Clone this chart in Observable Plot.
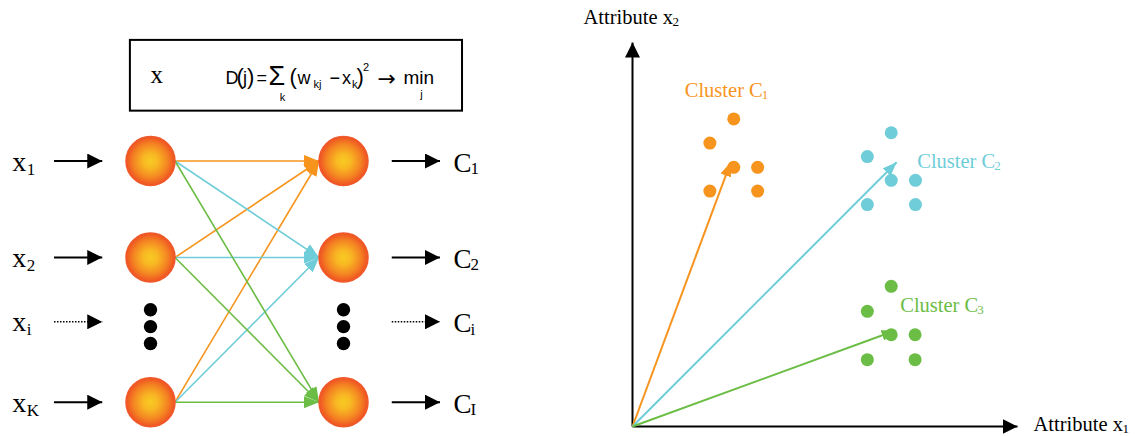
<!DOCTYPE html>
<html><head><meta charset="utf-8">
<script src="https://cdn.jsdelivr.net/npm/d3@7"></script>
<script src="https://cdn.jsdelivr.net/npm/@observablehq/plot@0.6"></script>
<style>
body{margin:0;background:#fff;}
#wrap{display:flex;width:1135px;height:436px;overflow:hidden;}
</style></head><body><div id="wrap"></div>
<script>
// ---------------- data ----------------
// Left: Kohonen network (grid units)
const inputSubs = ["1", "2", "i", "K"];
const outputSubs = ["1", "2", "i", "I"];
const rowLevels = [0, 6, 10, 15];          // x1, x2, xi, xK rows
const neuronRows = [0, 6, 15];             // rows that show a neuron
const ellipsisLevels = [9.25, 10.3, 11.35];
const layerLevels = [0, 12];               // input layer, output layer
const connFrom = [0, 6, 15, 0, 6, 15, 0, 6, 15];
const connTo = [0, 0, 0, 6, 6, 6, 15, 15, 15];
const connCluster = [0, 0, 0, 1, 1, 1, 2, 2, 2];

// Right: clusters in attribute space
const clusterNames = ["1", "2", "3"];
const clusterColors = ["#F7941D", "#6FCDD9", "#6BBD45"];
const clusterX = [
  [2.63, 2.01, 2.63, 3.25, 2.01, 3.25],
  [6.72, 6.10, 6.72, 7.35, 6.10, 7.35],
  [6.72, 6.10, 6.72, 7.34, 6.10, 7.34]
];
const clusterY = [
  [8.01, 7.38, 6.75, 6.75, 6.13, 6.13],
  [7.65, 7.03, 6.41, 6.41, 5.78, 5.78],
  [3.65, 3.00, 2.39, 2.39, 1.74, 1.74]
];
const weightX = [2.55, 6.86, 6.83];
const weightY = [6.88, 6.88, 2.50];
const axisMax = 10;

// ---------------- left plot ----------------
const serif = "Liberation Serif";
const sans = "Liberation Sans";
const nodeR = 24.5;
const unitPx = (343 - 150) / 12;
const edge = nodeR / unitPx;

const rowsData = rowLevels.map((lvl, i) => ({lvl, inSub: inputSubs[i], outSub: outputSubs[i], dotted: inputSubs[i] === "i"}));
const neurons = layerLevels.flatMap(l => neuronRows.map(r => ({l, r})));
const ellipsis = layerLevels.flatMap(l => ellipsisLevels.map(r => ({l, r})));
const conns = connFrom.map((f, i) => ({f, t: connTo[i], c: connCluster[i]}));

const formula = [
  {t: "D", dx: 0, dy: 0, s: 18},
  {t: "(", dx: 11, dy: 0, s: 22},
  {t: "j", dx: 17.5, dy: 0, s: 18},
  {t: ")", dx: 21.5, dy: 0, s: 22},
  {t: "=", dx: 31, dy: 0, s: 18},
  {t: "Σ", dx: 43, dy: 1, s: 27},
  {t: "k", dx: 57, dy: 17, s: 11, a: "middle"},
  {t: "(", dx: 64, dy: 0, s: 22},
  {t: "w", dx: 72, dy: 0, s: 18},
  {t: "kj", dx: 88, dy: 4, s: 11},
  {t: "−", dx: 104, dy: 0, s: 18},
  {t: "x", dx: 116.5, dy: 0, s: 18},
  {t: "k", dx: 126.5, dy: 4, s: 11},
  {t: ")", dx: 131, dy: 0, s: 22},
  {t: "2", dx: 137.5, dy: -13, s: 11},
  {t: "→", dx: 152, dy: 2, s: 22, f: "DejaVu Sans"},
  {t: "min", dx: 178, dy: 0, s: 19},
  {t: "j", dx: 196, dy: 14, s: 11, a: "middle"}
];
const fx = 4.66, fy = -4.76;

const leftMarks = [
  Plot.rect([0], {x1: -1.25, x2: 19.4, y1: -7.5, y2: -3.1, fill: "white", stroke: "black", strokeWidth: 2}),
  Plot.text(["x"], {x: 0, y: -4.82, text: d => d, textAnchor: "start", lineAnchor: "bottom", fontFamily: serif, fontSize: 25, fill: "black"}),
  ...formula.map(p => Plot.text([p.t], {x: fx, y: fy, text: d => d, dx: p.dx, dy: p.dy, fontSize: p.s, fontFamily: p.f || sans, textAnchor: p.a || "start", lineAnchor: "bottom", fill: "black"})),
  // input labels
  Plot.text(rowsData, {x: -8.6, y: "lvl", text: () => "x", dy: 9.5, textAnchor: "start", lineAnchor: "bottom", fontFamily: serif, fontSize: 28, fill: "black"}),
  Plot.text(rowsData, {x: -8.6, y: "lvl", text: "inSub", dx: 14.5, dy: 13.5, textAnchor: "start", lineAnchor: "bottom", fontFamily: serif, fontSize: 17, fill: "black"}),
  // input arrows
  Plot.link(rowsData.filter(d => !d.dotted), {x1: -6, x2: -3, y1: "lvl", y2: "lvl", stroke: "black", strokeWidth: 2}),
  Plot.link(rowsData.filter(d => d.dotted), {x1: -6, x2: -3, y1: "lvl", y2: "lvl", stroke: "black", strokeWidth: 1.5, strokeDasharray: "1.5 1.5"}),
  // output arrows
  Plot.link(rowsData.filter(d => !d.dotted), {x1: 15, x2: 18, y1: "lvl", y2: "lvl", stroke: "black", strokeWidth: 2}),
  Plot.link(rowsData.filter(d => d.dotted), {x1: 15, x2: 18, y1: "lvl", y2: "lvl", stroke: "black", strokeWidth: 1.5, strokeDasharray: "1.5 1.5"}),
  // output labels
  Plot.text(rowsData, {x: 18.84, y: "lvl", text: () => "C", dy: 10.5, textAnchor: "start", lineAnchor: "bottom", fontFamily: serif, fontSize: 27, fill: "black"}),
  Plot.text(rowsData, {x: 18.84, y: "lvl", text: "outSub", dx: 17, dy: 13, textAnchor: "start", lineAnchor: "bottom", fontFamily: serif, fontSize: 17, fill: "black"}),
  // connections per cluster colour
  ...clusterColors.map((col, ci) => Plot.link(conns.filter(d => d.c === ci), {x1: edge, x2: 12 - edge, y1: "f", y2: "t", stroke: col, strokeWidth: 1.6})),
  // neurons
  Plot.dot(neurons, {x: "l", y: "r", r: nodeR, fill: "url(#nodeGrad)", stroke: "#F0592A", strokeWidth: 1.5}),
  Plot.dot(ellipsis, {x: "l", y: "r", r: 6.7, fill: "black"})
];

const svgL = Plot.plot({
  width: 580, height: 436, margin: 0,
  style: {background: "white", overflow: "visible"},
  x: {domain: [0, 12], range: [150, 343], axis: null},
  y: {domain: [0, 15], range: [160.5, 401.7], axis: null},
  marks: leftMarks
});

// ---------------- right plot ----------------
const points = clusterX.flatMap((xs, ci) => xs.map((x, j) => ({x, y: clusterY[ci][j], c: ci})));
const weights = weightX.map((x, i) => ({x, y: weightY[i], c: i}));
const labelOff = [{dx: -49, dy: -22.4}, {dx: 26, dy: 35}, {dx: 9, dy: 26}];

const rightMarks = [
  Plot.link([0], {x1: 0, y1: 0, x2: axisMax, y2: 0, stroke: "black", strokeWidth: 2}),
  Plot.link([0], {x1: 0, y1: 0, x2: 0, y2: axisMax, stroke: "black", strokeWidth: 2}),
  Plot.text(["Attribute x"], {x: 0, y: axisMax, text: d => d, dx: -49, dy: -19, textAnchor: "start", lineAnchor: "bottom", fontFamily: serif, fontSize: 20.5, fill: "black"}),
  Plot.text(["2"], {x: 0, y: axisMax, text: d => d, dx: 40, dy: -17, textAnchor: "start", lineAnchor: "bottom", fontFamily: serif, fontSize: 13, fill: "black"}),
  Plot.text(["Attribute x"], {x: axisMax, y: 0, text: d => d, dx: 16, dy: 4, textAnchor: "start", lineAnchor: "bottom", fontFamily: serif, fontSize: 20.5, fill: "black"}),
  Plot.text(["1"], {x: axisMax, y: 0, text: d => d, dx: 105, dy: 6, textAnchor: "start", lineAnchor: "bottom", fontFamily: serif, fontSize: 13, fill: "black"}),
  ...clusterColors.map((col, ci) => Plot.dot(points.filter(d => d.c === ci), {x: "x", y: "y", r: 6.5, fill: col})),
  ...clusterColors.map((col, ci) => Plot.link(weights.filter(d => d.c === ci), {x1: 0, y1: 0, x2: "x", y2: "y", stroke: col, strokeWidth: 2})),
  ...clusterColors.flatMap((col, ci) => {
    const top = points.filter(d => d.c === ci)[0];
    return [
      Plot.text([top], {x: "x", y: "y", text: () => "Cluster C", dx: labelOff[ci].dx, dy: labelOff[ci].dy, textAnchor: "start", lineAnchor: "bottom", fontFamily: serif, fontSize: 20.5, fill: col}),
      Plot.text([top], {x: "x", y: "y", text: () => clusterNames[ci], dx: labelOff[ci].dx + 77, dy: labelOff[ci].dy + 2, textAnchor: "start", lineAnchor: "bottom", fontFamily: serif, fontSize: 13, fill: col})
    ];
  })
];

const svgR = Plot.plot({
  width: 555, height: 436, margin: 0,
  style: {background: "white", overflow: "visible"},
  x: {domain: [0, axisMax], range: [52, 437], axis: null},
  y: {domain: [0, axisMax], range: [426, 42], axis: null},
  marks: rightMarks
});

// ---------------- decorations: gradient + filled arrowheads ----------------
function addMarkers(svg, prefix, sizes) {
  const defs = d3.select(svg).insert("defs", ":first-child");
  const colors = {black: "black"};
  clusterColors.forEach((c, i) => colors["c" + i] = c);
  for (const [key, col] of Object.entries(colors)) {
    const [len, wid] = key === "black" ? sizes.black : sizes.color;
    defs.append("marker").attr("id", prefix + key)
      .attr("viewBox", "0 0 10 10").attr("preserveAspectRatio", "none")
      .attr("refX", 10).attr("refY", 5)
      .attr("markerUnits", "userSpaceOnUse")
      .attr("markerWidth", len).attr("markerHeight", wid)
      .attr("orient", "auto")
      .append("path").attr("d", "M0,0L10,5L0,10Z").attr("fill", col).attr("stroke", "none");
  }
  d3.select(svg).selectAll('g[aria-label="link"]').each(function () {
    const s = (this.getAttribute("stroke") || "").toLowerCase();
    let key = "black";
    clusterColors.forEach((c, i) => { if (c.toLowerCase() === s) key = "c" + i; });
    d3.select(this).selectAll("path,line").attr("marker-end", `url(#${prefix}${key})`);
  });
  return defs;
}
const defsL = addMarkers(svgL, "L-", {black: [15, 15], color: [15, 12]});
const grad = defsL.append("radialGradient").attr("id", "nodeGrad").attr("cx", "50%").attr("cy", "50%").attr("r", "50%");
[[0, "#F8CA22"], [0.3, "#F8B823"], [0.7, "#F48422"], [1, "#EF5023"]].forEach(([o, c]) => grad.append("stop").attr("offset", o).attr("stop-color", c));
addMarkers(svgR, "R-", {black: [15, 15], color: [14, 11]});

document.getElementById("wrap").append(svgL, svgR);
</script></body></html>
